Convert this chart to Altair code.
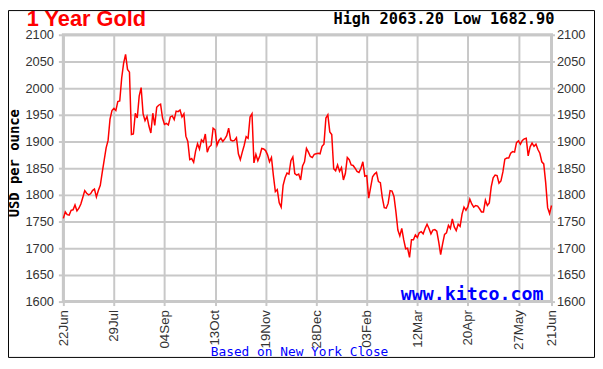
import altair as alt
import pandas as pd

# Daily gold price (USD/oz), 22 Jun 2020 -> 21 Jun 2021, one value per trading day
prices = [
    1756, 1768, 1763, 1762, 1771,
    1772, 1781, 1770, 1775,
    1783, 1795, 1808, 1803, 1800,
    1802, 1808, 1811, 1796, 1808,
    1818, 1842, 1865, 1888, 1902,
    1942, 1958, 1962, 1958, 1975,
    1976, 2019, 2047, 2063.2, 2035,
    2030, 1913, 1914, 1953, 1944,
    1985, 2001, 1952, 1939, 1947,
    1929, 1916, 1953, 1930, 1964,
    1968, 1970, 1944, 1932, 1934,
    1931, 1946, 1948, 1941,
    1957, 1956, 1959, 1946, 1952,
    1910, 1900, 1866, 1868, 1861,
    1882, 1896, 1886, 1903, 1899,
    1914, 1880, 1890, 1893, 1925,
    1922, 1893, 1902, 1906, 1900,
    1905, 1911, 1925, 1903, 1901,
    1902, 1907, 1877, 1866, 1880,
    1893, 1909, 1906, 1946, 1952,
    1860, 1876, 1864, 1873, 1887,
    1886, 1883, 1875, 1862, 1870,
    1836, 1806, 1810, 1785,
    1777, 1818, 1832, 1841, 1839,
    1864, 1871, 1840, 1837, 1839,
    1828, 1854, 1862, 1887, 1880,
    1872, 1870, 1876, 1877,
    1878, 1877, 1891, 1895,
    1944, 1950, 1918, 1913, 1849,
    1845, 1856, 1844, 1851, 1828,
    1840, 1870, 1866, 1856,
    1855, 1850, 1844, 1842, 1850,
    1862, 1835, 1836, 1794, 1814,
    1834, 1839, 1842, 1825, 1823,
    1795, 1776, 1775, 1784,
    1808, 1807, 1797, 1768, 1734,
    1723, 1737, 1716, 1699, 1700,
    1682.9, 1716, 1716, 1725, 1720,
    1729, 1731, 1727, 1737, 1745,
    1737, 1727, 1734, 1735, 1732,
    1712, 1688, 1708, 1726,
    1729, 1743, 1737, 1755, 1740,
    1733, 1745, 1741, 1764, 1777,
    1771, 1778, 1792, 1783, 1777,
    1780, 1779, 1774, 1768, 1768,
    1790, 1780, 1785, 1815, 1832,
    1837, 1836, 1822, 1826, 1843,
    1867, 1869, 1869, 1878, 1881,
    1880, 1898, 1901, 1895, 1902,
    1905, 1906, 1873, 1890,
    1897, 1891, 1895, 1885, 1878,
    1862, 1858, 1823, 1776, 1765,
    1780,
]

tick_days = [0, 26, 52, 78, 104, 130, 156, 182, 208, 234, 251]
tick_labels = ["22Jun", "29Jul", "04Sep", "13Oct", "19Nov", "28Dec",
               "03Feb", "12Mar", "20Apr", "27May", "21Jun"]
y_ticks = [1600, 1650, 1700, 1750, 1800, 1850, 1900, 1950, 2000, 2050, 2100]

title_text = "1 Year Gold"
hilo_text = "High 2063.20 Low 1682.90"
ytitle_text = "USD per ounce"
site_text = "www.kitco.com"
note_text = "Based on New York Close"

df = pd.DataFrame({"day": list(range(len(prices))), "price": prices})

W, H = 494, 270
GRID = "#c8c8c8"
LABEL = "#333333"

label_expr = "split('%s', ',')[indexof([%s], datum.value)]" % (
    ",".join(tick_labels), ",".join(str(t) for t in tick_days))

x_enc = alt.X(
    "day:Q",
    scale=alt.Scale(domain=[0, len(prices) - 1], nice=False, zero=False),
    axis=alt.Axis(values=tick_days, labelExpr=label_expr, labelAngle=270,
                  labelAlign="right", labelBaseline="middle",
                  labelFont="Liberation Sans", labelFontSize=13.5, labelColor=LABEL,
                  labelPadding=4, tickSize=4, tickColor=GRID, tickWidth=2,
                  grid=True, gridColor=GRID, gridWidth=2, domain=False,
                  title=None, labelFlush=False, labelOverlap=False, labelBound=False),
)
y_scale = alt.Scale(domain=[1600, 2100], nice=False, zero=False)

left = alt.Chart(df).mark_line(color="#FF0000", strokeWidth=1.5).encode(
    x=x_enc,
    y=alt.Y("price:Q", scale=y_scale,
            axis=alt.Axis(values=y_ticks, format="d", orient="left", grid=True,
                          gridColor=GRID, gridWidth=2, tickSize=5, tickColor=GRID,
                          tickWidth=2, labelPadding=5, labelFont="Liberation Sans",
                          labelFontSize=13, labelColor=LABEL, domain=False, title=None,
                          labelFlush=False, labelOverlap=False, labelBound=False)),
)
right = alt.Chart(df).mark_line(opacity=0).encode(
    x=x_enc,
    y=alt.Y("price:Q", scale=y_scale,
            axis=alt.Axis(values=y_ticks, format="d", orient="right", grid=False,
                          tickSize=3, tickColor=GRID, tickWidth=2,
                          labelPadding=2, labelFont="Liberation Sans", labelFontSize=13,
                          labelColor=LABEL, domain=False, title=None,
                          labelFlush=False, labelOverlap=False, labelBound=False)),
)


def txt(text, x, y, **kw):
    return alt.Chart(pd.DataFrame({"t": [text]})).mark_text(**kw).encode(
        x=alt.value(x), y=alt.value(y), text="t:N")


title = txt(title_text, -37, -8.5, align="left", baseline="alphabetic",
            font="Liberation Sans", fontWeight="bold", fontSize=22, color="#FF0000")
hilo = txt(hilo_text, 497, -10.5, align="right", baseline="alphabetic",
           font="DejaVu Sans Mono", fontWeight="bold", fontSize=15.5, color="#000000")
ytitle = txt(ytitle_text, -48.5, 130, align="center", baseline="middle", angle=270,
             font="DejaVu Sans Mono", fontWeight="bold", fontSize=14, color="#000000")
site = txt(site_text, 486, 268, align="right", baseline="alphabetic",
           font="DejaVu Sans Mono", fontWeight="bold", fontSize=18.5, color="#0000FF")
note = txt(note_text, 239, 325, align="center", baseline="alphabetic",
           font="DejaVu Sans Mono", fontSize=13, color="#0000FF")

frame = alt.Chart(pd.DataFrame({"t": [0]})).mark_rect(
    filled=False, stroke="#000000", strokeWidth=1).encode(
    x=alt.value(-55.5), x2=alt.value(537.5), y=alt.value(-24.5), y2=alt.value(326.5))

chart = alt.layer(left, right, title, hilo, ytitle, site, note, frame).resolve_scale(
    y="independent"
).properties(
    width=W, height=H, autosize="none",
    padding={"left": 56, "top": 25, "right": 44, "bottom": 57},
).configure_view(stroke=GRID, strokeWidth=3)

chart.save("out.html", embed_options={"renderer": "svg", "actions": False})
